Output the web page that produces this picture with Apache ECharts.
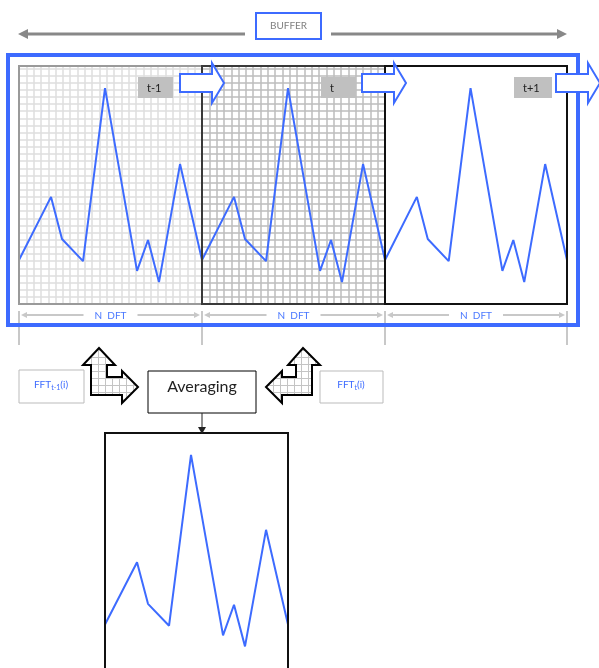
<!DOCTYPE html>
<html>
<head>
<meta charset="utf-8">
<script src="https://cdn.jsdelivr.net/npm/echarts@6/dist/echarts.min.js"></script>
<style>
  html, body { margin: 0; padding: 0; background: #fff; }
  #main { width: 599px; height: 668px; }
</style>
</head>
<body>
<div id="main"></div>
<script>
// spectrum frame data (same shape in every window)
const binPos = [0, 17.5, 23.5, 35, 47, 64.5, 70.5, 76.5, 88, 100];
const magnitude = [18.5, 45, 27.3, 18, 90.7, 13.9, 26.9, 9.2, 58.8, 18.5];
const windowLabels = ['t-1', 't', 't+1'];
const dftLabel = 'N  DFT';

const BLUE = '#3d6bff';
const FONT = 'Lato';
const chart = echarts.init(document.getElementById('main'), null, { renderer: 'canvas' });

// panels: left, top, width, border colour, grid-line colour (null = no grid)
const panels = [
  [19, 66, 183, '#9a9a9a', '#dedede'],
  [202, 66, 183, '#3a3a3a', '#bdbdbd'],
  [385, 66, 182, '#111111', null],
  [105, 433, 183, '#111111', null]
];

const lineData = binPos.map((x, i) => [x, magnitude[i]]);

const grids = [], xAxes = [], yAxes = [], series = [];
const g = [];
panels.forEach((p, i) => {
  grids.push({
    left: p[0], top: p[1], width: p[2], height: 238,
    show: true, backgroundColor: '#fff', borderWidth: 0
  });
  const split = p[4] ? { show: true, lineStyle: { color: p[4], width: 1.5 } } : { show: false };
  xAxes.push({
    type: 'value', gridIndex: i, min: 0, max: 100, interval: 4,
    axisLine: { show: false }, axisTick: { show: false }, axisLabel: { show: false },
    splitLine: split
  });
  yAxes.push({
    type: 'value', gridIndex: i, min: 0, max: 100, interval: 3,
    axisLine: { show: false }, axisTick: { show: false }, axisLabel: { show: false },
    splitLine: split
  });
  series.push({
    type: 'line', xAxisIndex: i, yAxisIndex: i, data: lineData,
    symbol: 'none', lineStyle: { color: BLUE, width: 2 }, z: 3
  });
  // panel border drawn above the grid lines
  g.push({
    type: 'rect', shape: { x: p[0], y: p[1], width: p[2], height: 238 },
    style: { fill: 'none', stroke: p[3], lineWidth: 2 }, z: 30 + i
  });
});

// grid pattern for the bent arrows
const pat = document.createElement('canvas');
pat.width = 7; pat.height = 7;
const pctx = pat.getContext('2d');
pctx.fillStyle = '#fff'; pctx.fillRect(0, 0, 7, 7);
pctx.strokeStyle = '#c4c4c4'; pctx.lineWidth = 1;
pctx.beginPath(); pctx.moveTo(0.5, 0); pctx.lineTo(0.5, 7); pctx.moveTo(0, 0.5); pctx.lineTo(7, 0.5); pctx.stroke();

// top BUFFER arrows
g.push({ type: 'line', shape: { x1: 26, y1: 34, x2: 245, y2: 34 }, style: { stroke: '#888', lineWidth: 3 } });
g.push({ type: 'polygon', shape: { points: [[18, 34], [28, 29], [28, 39]] }, style: { fill: '#888' } });
g.push({ type: 'line', shape: { x1: 331, y1: 34, x2: 559, y2: 34 }, style: { stroke: '#888', lineWidth: 3 } });
g.push({ type: 'polygon', shape: { points: [[567, 34], [557, 29], [557, 39]] }, style: { fill: '#888' } });
g.push({ type: 'rect', shape: { x: 256, y: 13, width: 65, height: 26 }, style: { fill: '#fff', stroke: BLUE, lineWidth: 2 } });
g.push({ type: 'text', x: 288.5, y: 26, style: { text: 'BUFFER', fill: '#808080', font: '10px ' + FONT, align: 'center', verticalAlign: 'middle' } });

// buffer frame
g.push({ type: 'rect', shape: { x: 8, y: 55, width: 570, height: 270 }, style: { fill: 'none', stroke: BLUE, lineWidth: 4 }, z: 50 });

// window labels and shift arrows
const labelX = [138, 321, 514];
const labelW = [35, 35, 38];
const arrowX = [180, 362, 556];
windowLabels.forEach((t, i) => {
  g.push({ type: 'rect', shape: { x: labelX[i], y: 77, width: labelW[i], height: 21 }, style: { fill: '#c0c0c0' }, z: 60 });
  g.push({ type: 'text', x: labelX[i] + 9, y: 88, style: { text: t, fill: '#222', font: '11px ' + FONT, verticalAlign: 'middle' }, z: 61 });
  const a = arrowX[i];
  g.push({
    type: 'polygon',
    shape: { points: [[a, 74], [a + 32, 74], [a + 32, 63], [a + 44, 83], [a + 32, 103], [a + 32, 92], [a, 92]] },
    style: { fill: '#fff', stroke: BLUE, lineWidth: 2 }, z: 70
  });
});

// N DFT dimension lines
const edges = [19, 202, 385, 567];
edges.forEach(x => {
  g.push({ type: 'line', shape: { x1: x, y1: 311, x2: x, y2: 345 }, style: { stroke: '#c8c8c8', lineWidth: 2 }, z: 40 });
});
for (let i = 0; i < 3; i++) {
  const x0 = edges[i] + 2, x1 = edges[i + 1] - 2, c = (edges[i] + edges[i + 1]) / 2;
  g.push({ type: 'line', shape: { x1: x0 + 5, y1: 315, x2: c - 27, y2: 315 }, style: { stroke: '#c8c8c8', lineWidth: 2 }, z: 40 });
  g.push({ type: 'line', shape: { x1: c + 27, y1: 315, x2: x1 - 5, y2: 315 }, style: { stroke: '#c8c8c8', lineWidth: 2 }, z: 40 });
  g.push({ type: 'polygon', shape: { points: [[x0, 315], [x0 + 6, 312], [x0 + 6, 318]] }, style: { fill: '#c8c8c8' }, z: 40 });
  g.push({ type: 'polygon', shape: { points: [[x1, 315], [x1 - 6, 312], [x1 - 6, 318]] }, style: { fill: '#c8c8c8' }, z: 40 });
  g.push({ type: 'text', x: c, y: 316, style: { text: dftLabel, fill: '#4a78ff', font: '10px ' + FONT, align: 'center', verticalAlign: 'middle' }, z: 41 });
}

// FFT boxes
const fftRich = { b: { fill: '#3d6bff', font: '10px ' + FONT }, s: { fill: '#3d6bff', font: '7px ' + FONT, padding: [6, 0, 0, 0] } };
g.push({ type: 'rect', shape: { x: 19, y: 370, width: 65, height: 33 }, style: { fill: '#fff', stroke: '#bbb', lineWidth: 1 } });
g.push({ type: 'text', x: 51, y: 385, style: { text: '{b|FFT}{s|t-1}{b|(i)}', rich: fftRich, align: 'center', verticalAlign: 'middle' } });
g.push({ type: 'rect', shape: { x: 320, y: 371, width: 63, height: 32 }, style: { fill: '#fff', stroke: '#bbb', lineWidth: 1 } });
g.push({ type: 'text', x: 351, y: 385, style: { text: '{b|FFT}{s|t}{b|(i)}', rich: fftRich, align: 'center', verticalAlign: 'middle' } });

// Averaging
g.push({ type: 'rect', shape: { x: 148, y: 371, width: 108, height: 42 }, style: { fill: '#fff', stroke: '#000', lineWidth: 1 } });
g.push({ type: 'text', x: 202, y: 387, style: { text: 'Averaging', fill: '#222', font: '16px ' + FONT, align: 'center', verticalAlign: 'middle' } });
g.push({ type: 'line', shape: { x1: 202, y1: 413, x2: 202, y2: 428 }, style: { stroke: '#222', lineWidth: 1 } });
g.push({ type: 'polygon', shape: { points: [[198, 427], [206, 427], [202, 434]] }, style: { fill: '#222' }, z: 80 });

// bent double arrows
const patFill = { image: pat, repeat: 'repeat' };
g.push({
  type: 'polygon',
  shape: { points: [[99, 348], [115, 365], [107, 365], [107, 377], [122, 377], [122, 371], [138, 387], [122, 403], [122, 395], [91, 395], [91, 365], [83, 365]] },
  style: { fill: patFill, stroke: '#000', lineWidth: 2 }
});
g.push({
  type: 'polygon',
  shape: { points: [[303, 348], [320, 365], [312, 365], [312, 395], [282, 395], [282, 403], [266, 387], [282, 371], [282, 377], [296, 377], [296, 365], [288, 365]] },
  style: { fill: patFill, stroke: '#000', lineWidth: 2 }
});

chart.setOption({
  animation: false,
  grid: grids,
  xAxis: xAxes,
  yAxis: yAxes,
  series: series,
  graphic: { elements: g }
});
</script>
</body>
</html>
